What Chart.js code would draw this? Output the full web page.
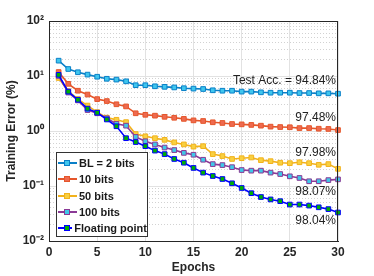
<!DOCTYPE html>
<html>
<head>
<meta charset="utf-8">
<script src="https://cdn.jsdelivr.net/npm/chart.js@4"></script>
<style>
  html, body { margin: 0; padding: 0; background: #fff; }
  #wrap { position: relative; width: 374px; height: 276px; }
  #legend {
    position: absolute; left: 56px; top: 152px; width: 92px; height: 85px;
    box-sizing: border-box; border: 1px solid #333; background: #fff;
    padding-top: 2px;
    font: bold 11px "Liberation Sans", Arial, sans-serif; color: #1a1a1a;
  }
  .row { display: flex; align-items: center; height: 16.3px; white-space: nowrap; }
  .sample { position: relative; width: 19px; height: 10px; margin: 0 2px 0 1px; }
  .sample .ln { position: absolute; left: 0; right: 0; top: 4px; height: 2px; }
  .sample .mk { position: absolute; left: 6px; top: 2px; width: 4px; height: 4px; border: 1px solid; }
</style>
</head>
<body>
<div id="wrap">
  <canvas id="chart" width="374" height="276"></canvas>
  <div id="legend"></div>
</div>
<script>
// === DATA ===
const epochs = [1, 2, 3, 4, 5, 6, 7, 8, 9, 10, 11, 12, 13, 14, 15, 16, 17, 18, 19, 20, 21, 22, 23, 24, 25, 26, 27, 28, 29, 30];
const seriesNames = ["BL = 2 bits", "10 bits", "50 bits", "100 bits", "Floating point"];

const bl2Bits = [19, 13.4, 11.7, 10.6, 9.7, 8.9, 8.6, 8.0, 6.8, 6.8, 6.5, 6.35, 6.2, 6.0, 5.9, 5.8, 5.5, 5.4, 5.4, 5.2, 5.2, 5.05, 4.97, 4.97, 4.97, 4.9, 4.9, 4.84, 4.84, 4.77];
const bits10 = [11.8, 7.2, 5.4, 4.6, 3.8, 3.5, 3.06, 2.8, 2.1, 1.97, 1.9, 1.81, 1.74, 1.66, 1.56, 1.52, 1.44, 1.40, 1.34, 1.32, 1.29, 1.25, 1.2, 1.18, 1.17, 1.13, 1.13, 1.1, 1.09, 1.04];
const bits50 = [9.2, 5.3, 3.8, 2.9, 2.2, 1.75, 1.6, 1.45, 0.88, 0.8, 0.74, 0.69, 0.62, 0.57, 0.52, 0.53, 0.38, 0.35, 0.31, 0.32, 0.33, 0.295, 0.283, 0.265, 0.26, 0.27, 0.26, 0.243, 0.25, 0.205];
const bits100 = [10, 5.0, 3.6, 2.4, 2.1, 1.7, 1.35, 1.25, 0.78, 0.65, 0.57, 0.5, 0.45, 0.4, 0.37, 0.3, 0.25, 0.24, 0.22, 0.195, 0.19, 0.19, 0.175, 0.165, 0.15, 0.14, 0.122, 0.122, 0.128, 0.132];
const floatingPoint = [10.5, 5.2, 3.7, 2.55, 2.15, 1.62, 1.22, 0.74, 0.63, 0.53, 0.44, 0.38, 0.31, 0.265, 0.213, 0.175, 0.152, 0.134, 0.112, 0.092, 0.074, 0.063, 0.057, 0.053, 0.046, 0.046, 0.044, 0.041, 0.038, 0.033];

const xTicks = [0, 5, 10, 15, 20, 25, 30];
const yDecades = [0.01, 0.1, 1, 10, 100];
const yTickLabels = ["10\u207B\u00B2", "10\u207B\u00B9", "10\u2070", "10\u00B9", "10\u00B2"];

// accuracy notes at the right end (text, y anchor in %)
const accLabels = ["Test Acc. = 94.84%", "97.48%", "97.98%", "98.07%", "98.04%"];
const accAnchors = [8.1, 1.72, 0.398, 0.0778, 0.0231];

// === STYLES ===
const lineColors = ["#0a80c8", "#e5562a", "#f2b21c", "#8b3a96", "#0000ff"];
const faceColors = ["#3fc6ee", "#ee6a50", "#f8d040", "#3fc8e8", "#00b000"];
const allSeries = [bl2Bits, bits10, bits50, bits100, floatingPoint];

const FONT = '"Liberation Sans", Arial, sans-serif';
const isMajor = v => Math.abs(Math.log10(v) - Math.round(Math.log10(v))) < 1e-9;

// minor + major log ticks
const yTicks = [];
yDecades.forEach((d, i) => {
  if (i === yDecades.length - 1) { yTicks.push(d); return; }
  for (let k = 1; k <= 9; k++) yTicks.push(d * k);
});

const boxPlugin = {
  id: "box",
  afterDatasetsDraw(chart) {
    const { ctx, chartArea: a, scales } = chart;
    ctx.save();
    ctx.strokeStyle = "#262626";
    ctx.lineWidth = 1;
    ctx.strokeRect(a.left + 0.5, a.top + 0.5, a.right - a.left - 1, a.bottom - a.top);
    ctx.font = "12px " + FONT;
    ctx.fillStyle = "#222";
    ctx.textAlign = "right";
    ctx.textBaseline = "middle";
    const xr = scales.x.getPixelForValue(30) - 2;
    accLabels.forEach((t, i) => {
      ctx.fillText(t, xr, scales.y.getPixelForValue(accAnchors[i]));
    });
    ctx.restore();
  }
};

const ctx = document.getElementById("chart").getContext("2d");

new Chart(ctx, {
  type: "line",
  data: {
    datasets: allSeries.map((vals, i) => ({
      label: seriesNames[i],
      data: vals.map((v, j) => ({ x: epochs[j], y: v })),
      borderColor: lineColors[i],
      backgroundColor: faceColors[i],
      pointBackgroundColor: faceColors[i],
      pointBorderColor: lineColors[i],
      pointStyle: "rect",
      pointRadius: 3.3,
      pointBorderWidth: 1,
      borderWidth: 1.6,
      tension: 0,
      fill: false,
      clip: false,
      order: allSeries.length - i
    }))
  },
  options: {
    responsive: false,
    animation: false,
    layout: { padding: { top: 21, right: 36, left: 0, bottom: 0 } },
    plugins: {
      legend: { display: false },
      tooltip: { enabled: false }
    },
    scales: {
      x: {
        type: "linear",
        min: 0,
        max: 30,
        afterBuildTicks: s => { s.ticks = xTicks.map(v => ({ value: v })); },
        afterFit: s => { s.height = 35; },
        ticks: { font: { family: FONT, size: 12, weight: "bold" }, color: "#262626", padding: 4, maxRotation: 0 },
        grid: { color: "#e2e2e2", drawTicks: false },
        border: { color: "#262626" },
        title: { display: true, text: "Epochs", color: "#262626", font: { family: FONT, size: 12, weight: "bold" }, padding: { top: 0, bottom: 1 } }
      },
      y: {
        type: "logarithmic",
        min: 0.01,
        max: 100,
        afterBuildTicks: s => { s.ticks = yTicks.map(v => ({ value: v })); },
        afterFit: s => { s.width = 49; },
        ticks: {
          autoSkip: false,
          padding: 5,
          font: { family: FONT, size: 12, weight: "bold" },
          color: "#262626",
          callback: v => {
            const k = yDecades.findIndex(d => Math.abs(d - v) / d < 1e-9);
            return k >= 0 ? yTickLabels[k] : "";
          }
        },
        grid: {
          drawTicks: false,
          color: c => (c.tick && !isMajor(c.tick.value)) ? "#d2d2d2" : "#e2e2e2"
        },
        border: {
          color: "#262626",
          dash: c => (c.tick && !isMajor(c.tick.value)) ? [1, 2] : []
        },
        title: { display: true, text: "Training Error (%)", color: "#262626", font: { family: FONT, size: 12, weight: "bold" }, padding: { top: 4, bottom: 0 } }
      }
    }
  },
  plugins: [boxPlugin]
});

// === LEGEND (inside the plot, lower left) ===
const legend = document.getElementById("legend");
seriesNames.forEach((name, i) => {
  const row = document.createElement("div");
  row.className = "row";
  row.innerHTML = `
    <div class="sample">
      <div class="ln" style="background:${lineColors[i]}"></div>
      <div class="mk" style="background:${faceColors[i]};border-color:${lineColors[i]}"></div>
    </div>
    <span>${name}</span>`;
  legend.appendChild(row);
});
</script>
</body>
</html>
